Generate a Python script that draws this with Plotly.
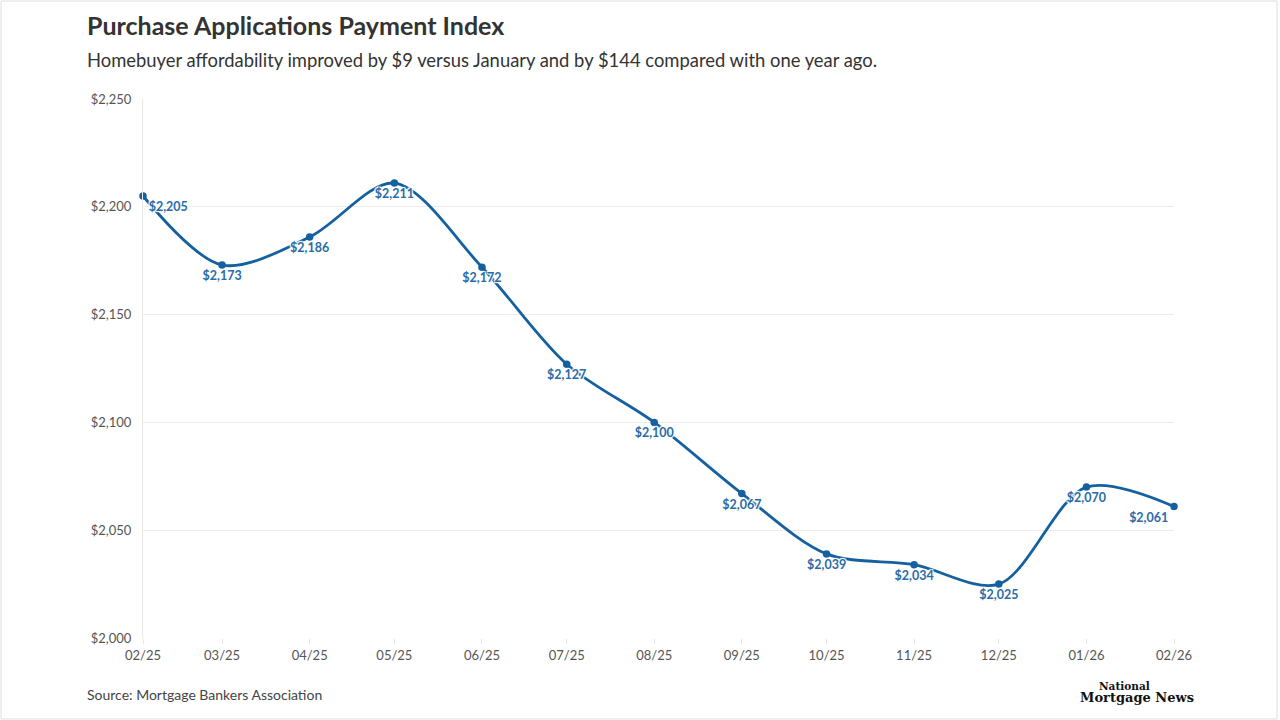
import plotly.graph_objects as go

months = ["2025-02-01", "2025-03-01", "2025-04-01", "2025-05-01", "2025-06-01",
          "2025-07-01", "2025-08-01", "2025-09-01", "2025-10-01", "2025-11-01",
          "2025-12-01", "2026-01-01", "2026-02-01"]
payments = [2205, 2173, 2186, 2211, 2172, 2127, 2100, 2067, 2039, 2034, 2025, 2070, 2061]
y_ticks = [2000, 2050, 2100, 2150, 2200, 2250]
y_tick_text = [f"${v:,}" for v in y_ticks]

label_pos = ["bottom right"] + ["bottom center"] * (len(months) - 2) + ["bottom left"]

line_color = "#15609f"
label_color = "#2a6ca8"

fig = go.Figure()
fig.add_trace(go.Scatter(
    x=months,
    y=payments,
    mode="lines+markers+text",
    line=dict(color=line_color, width=2.8, shape="spline", smoothing=0.9),
    marker=dict(color=line_color, size=7.5),
    text=[f"${v:,}" for v in payments],
    textposition=label_pos,
    textfont=dict(family="Lato", size=12.5, color=label_color, weight="bold",
                  shadow="1px 1px 1px white, -1px -1px 1px white, 1px -1px 1px white, -1px 1px 1px white"),
    hoverinfo="skip",
    cliponaxis=False,
))

fig.update_layout(
    width=1280, height=720,
    paper_bgcolor="white", plot_bgcolor="white",
    margin=dict(l=143, r=106, t=99, b=82),
    showlegend=False,
    font=dict(family="Lato", color="#555555"),
    xaxis=dict(
        type="date",
        tickmode="array",
        tickvals=months,
        tickformat="%m/%y",
        range=[months[0], months[-1]],
        showgrid=False,
        zeroline=False,
        showline=False,
        ticks="outside", ticklen=5, tickcolor="#e6e6e6",
        tickfont=dict(size=13, color="#555555"),
    ),
    yaxis=dict(
        range=[2000, 2250],
        tickmode="array",
        tickvals=y_ticks,
        ticktext=y_tick_text,
        showgrid=True, gridcolor="#ececec", gridwidth=1,
        zeroline=False,
        showline=True, linecolor="#e8e8e8", linewidth=1,
        ticks="", ticklabelstandoff=8,
        tickfont=dict(size=13, color="#555555"),
    ),
    annotations=[
        dict(text="Purchase Applications Payment Index", xref="paper", yref="paper",
             x=0, xanchor="left", xshift=-58, y=1, yshift=74, yanchor="middle",
             showarrow=False, font=dict(family="Lato", size=25, color="#333333", weight="bold")),
        dict(text="Homebuyer affordability improved by $9 versus January and by $144 compared with one year ago.",
             xref="paper", yref="paper",
             x=0, xanchor="left", xshift=-58, y=1, yshift=39, yanchor="middle",
             showarrow=False, font=dict(family="Lato", size=18.4, color="#333333")),
        dict(text="Source: Mortgage Bankers Association", xref="paper", yref="paper",
             x=0, xanchor="left", xshift=-58, y=0, yshift=-56, yanchor="middle",
             showarrow=False, font=dict(family="Lato", size=14, color="#444444")),
        dict(text="National", xref="paper", yref="paper",
             x=1, xanchor="center", xshift=-50, y=0, yshift=-48, yanchor="middle",
             showarrow=False, font=dict(family="DejaVu Serif", size=10.5, color="#111111", weight="bold")),
        dict(text="Mortgage News", xref="paper", yref="paper",
             x=1, xanchor="center", xshift=-37, y=0, yshift=-59, yanchor="middle",
             showarrow=False, font=dict(family="DejaVu Serif", size=13, color="#111111", weight="bold")),
    ],
)

# thin outer border around the figure
fig.add_shape(type="rect", xref="paper", yref="paper",
              x0=-142/1031, x1=1 + 103/1031, y0=-81/539, y1=1 + 98/539,
              line=dict(color="#dddddd", width=1), layer="below")

fig.write_html("out.html", config={"displayModeBar": False},
               post_script="document.body.style.margin='0px';")
